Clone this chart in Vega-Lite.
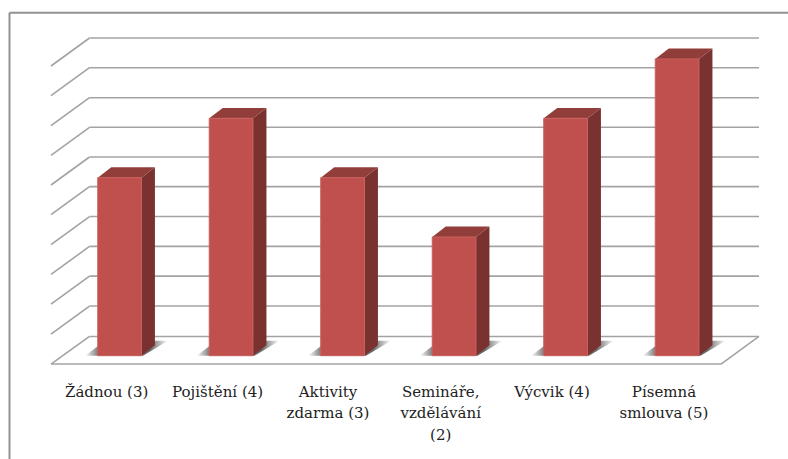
{"$schema":"https://vega.github.io/schema/vega-lite/v6.json","width":788,"height":459,"padding":0,"autosize":{"type":"none"},"background":"white","config":{"view":{"stroke":null},"font":"DejaVu Serif"},
"datasets":{
"lines":[
{"kind":"frame","x":-0.9874,"x2":5.9946,"y":5.779,"y2":5.779},
{"kind":"frame","x":-0.9874,"x2":-0.9874,"y":5.779,"y2":-1.7405},
{"kind":"grid","x":-0.27,"x2":5.7345,"y":5.353,"y2":5.353},
{"kind":"grid","x":-0.27,"x2":5.7345,"y":4.853,"y2":4.853},
{"kind":"grid","x":-0.27,"x2":5.7345,"y":4.347,"y2":4.347},
{"kind":"grid","x":-0.27,"x2":5.7345,"y":3.848,"y2":3.848},
{"kind":"grid","x":-0.27,"x2":5.7345,"y":3.348,"y2":3.348},
{"kind":"grid","x":-0.27,"x2":5.7345,"y":2.848,"y2":2.848},
{"kind":"grid","x":-0.27,"x2":5.7345,"y":2.345,"y2":2.345},
{"kind":"grid","x":-0.27,"x2":5.7345,"y":1.842,"y2":1.842},
{"kind":"grid","x":-0.27,"x2":5.7345,"y":1.34,"y2":1.34},
{"kind":"grid","x":-0.27,"x2":5.7345,"y":0.837,"y2":0.837},
{"kind":"grid","x":-0.27,"x2":5.7345,"y":0.324,"y2":0.324},
{"kind":"grid","x":-0.6152,"x2":-0.27,"y":4.881,"y2":5.353},
{"kind":"grid","x":-0.6152,"x2":-0.27,"y":4.381,"y2":4.853},
{"kind":"grid","x":-0.6152,"x2":-0.27,"y":3.875,"y2":4.347},
{"kind":"grid","x":-0.6152,"x2":-0.27,"y":3.376,"y2":3.848},
{"kind":"grid","x":-0.6152,"x2":-0.27,"y":2.876,"y2":3.348},
{"kind":"grid","x":-0.6152,"x2":-0.27,"y":2.376,"y2":2.848},
{"kind":"grid","x":-0.6152,"x2":-0.27,"y":1.873,"y2":2.345},
{"kind":"grid","x":-0.6152,"x2":-0.27,"y":1.37,"y2":1.842},
{"kind":"grid","x":-0.6152,"x2":-0.27,"y":0.868,"y2":1.34},
{"kind":"grid","x":-0.6152,"x2":-0.27,"y":0.365,"y2":0.837},
{"kind":"grid","x":-0.6152,"x2":-0.27,"y":-0.1405,"y2":0.324},
{"kind":"grid","x":-0.6152,"x2":5.394,"y":-0.1405,"y2":-0.1405},
{"kind":"grid","x":5.394,"x2":5.7345,"y":-0.1405,"y2":0.324}
],
"bars":[
{"bar":"Žádnou","x0":-0.196,"x1":0.196,"base":0,"v":3},
{"bar":"Pojištění","x0":0.804,"x1":1.196,"base":0,"v":4},
{"bar":"Aktivity zdarma","x0":1.804,"x1":2.196,"base":0,"v":3},
{"bar":"Semináře, vzdělávání","x0":2.804,"x1":3.196,"base":0,"v":2},
{"bar":"Výcvik","x0":3.804,"x1":4.196,"base":0,"v":4},
{"bar":"Písemná smlouva","x0":4.804,"x1":5.196,"base":0,"v":5}
],
"faces":[
{"bar":"Žádnou","face":"shadow","x":-0.31,"lo":0,"hi":0},{"bar":"Žádnou","face":"shadow","x":-0.131,"lo":0,"hi":0.25},{"bar":"Žádnou","face":"shadow","x":0.21,"lo":0,"hi":0.25},{"bar":"Žádnou","face":"shadow","x":0.434,"lo":0.25,"hi":0.25},
{"bar":"Pojištění","face":"shadow","x":0.69,"lo":0,"hi":0},{"bar":"Pojištění","face":"shadow","x":0.869,"lo":0,"hi":0.25},{"bar":"Pojištění","face":"shadow","x":1.21,"lo":0,"hi":0.25},{"bar":"Pojištění","face":"shadow","x":1.434,"lo":0.25,"hi":0.25},
{"bar":"Aktivity zdarma","face":"shadow","x":1.69,"lo":0,"hi":0},{"bar":"Aktivity zdarma","face":"shadow","x":1.869,"lo":0,"hi":0.25},{"bar":"Aktivity zdarma","face":"shadow","x":2.21,"lo":0,"hi":0.25},{"bar":"Aktivity zdarma","face":"shadow","x":2.434,"lo":0.25,"hi":0.25},
{"bar":"Semináře, vzdělávání","face":"shadow","x":2.69,"lo":0,"hi":0},{"bar":"Semináře, vzdělávání","face":"shadow","x":2.869,"lo":0,"hi":0.25},{"bar":"Semináře, vzdělávání","face":"shadow","x":3.21,"lo":0,"hi":0.25},{"bar":"Semináře, vzdělávání","face":"shadow","x":3.434,"lo":0.25,"hi":0.25},
{"bar":"Výcvik","face":"shadow","x":3.69,"lo":0,"hi":0},{"bar":"Výcvik","face":"shadow","x":3.869,"lo":0,"hi":0.25},{"bar":"Výcvik","face":"shadow","x":4.21,"lo":0,"hi":0.25},{"bar":"Výcvik","face":"shadow","x":4.434,"lo":0.25,"hi":0.25},
{"bar":"Písemná smlouva","face":"shadow","x":4.69,"lo":0,"hi":0},{"bar":"Písemná smlouva","face":"shadow","x":4.869,"lo":0,"hi":0.25},{"bar":"Písemná smlouva","face":"shadow","x":5.21,"lo":0,"hi":0.25},{"bar":"Písemná smlouva","face":"shadow","x":5.434,"lo":0.25,"hi":0.25},
{"bar":"Žádnou","face":"side","x":0.196,"lo":0,"hi":3},{"bar":"Žádnou","face":"side","x":0.317,"lo":0.175,"hi":3.175},
{"bar":"Pojištění","face":"side","x":1.196,"lo":0,"hi":4},{"bar":"Pojištění","face":"side","x":1.317,"lo":0.175,"hi":4.175},
{"bar":"Aktivity zdarma","face":"side","x":2.196,"lo":0,"hi":3},{"bar":"Aktivity zdarma","face":"side","x":2.317,"lo":0.175,"hi":3.175},
{"bar":"Semináře, vzdělávání","face":"side","x":3.196,"lo":0,"hi":2},{"bar":"Semináře, vzdělávání","face":"side","x":3.317,"lo":0.175,"hi":2.175},
{"bar":"Výcvik","face":"side","x":4.196,"lo":0,"hi":4},{"bar":"Výcvik","face":"side","x":4.317,"lo":0.175,"hi":4.175},
{"bar":"Písemná smlouva","face":"side","x":5.196,"lo":0,"hi":5},{"bar":"Písemná smlouva","face":"side","x":5.317,"lo":0.175,"hi":5.175},
{"bar":"Žádnou","face":"top","x":-0.196,"lo":3,"hi":3},{"bar":"Žádnou","face":"top","x":-0.075,"lo":3,"hi":3.175},{"bar":"Žádnou","face":"top","x":0.196,"lo":3,"hi":3.175},{"bar":"Žádnou","face":"top","x":0.317,"lo":3.175,"hi":3.175},
{"bar":"Pojištění","face":"top","x":0.804,"lo":4,"hi":4},{"bar":"Pojištění","face":"top","x":0.925,"lo":4,"hi":4.175},{"bar":"Pojištění","face":"top","x":1.196,"lo":4,"hi":4.175},{"bar":"Pojištění","face":"top","x":1.317,"lo":4.175,"hi":4.175},
{"bar":"Aktivity zdarma","face":"top","x":1.804,"lo":3,"hi":3},{"bar":"Aktivity zdarma","face":"top","x":1.925,"lo":3,"hi":3.175},{"bar":"Aktivity zdarma","face":"top","x":2.196,"lo":3,"hi":3.175},{"bar":"Aktivity zdarma","face":"top","x":2.317,"lo":3.175,"hi":3.175},
{"bar":"Semináře, vzdělávání","face":"top","x":2.804,"lo":2,"hi":2},{"bar":"Semináře, vzdělávání","face":"top","x":2.925,"lo":2,"hi":2.175},{"bar":"Semináře, vzdělávání","face":"top","x":3.196,"lo":2,"hi":2.175},{"bar":"Semináře, vzdělávání","face":"top","x":3.317,"lo":2.175,"hi":2.175},
{"bar":"Výcvik","face":"top","x":3.804,"lo":4,"hi":4},{"bar":"Výcvik","face":"top","x":3.925,"lo":4,"hi":4.175},{"bar":"Výcvik","face":"top","x":4.196,"lo":4,"hi":4.175},{"bar":"Výcvik","face":"top","x":4.317,"lo":4.175,"hi":4.175},
{"bar":"Písemná smlouva","face":"top","x":4.804,"lo":5,"hi":5},{"bar":"Písemná smlouva","face":"top","x":4.925,"lo":5,"hi":5.175},{"bar":"Písemná smlouva","face":"top","x":5.196,"lo":5,"hi":5.175},{"bar":"Písemná smlouva","face":"top","x":5.317,"lo":5.175,"hi":5.175}
],
"labels":[
{"label":"Žádnou (3)","x":-0.116,"y":-0.696},
{"label":"Pojištění (4)","x":0.879,"y":-0.696},
{"label":"Aktivity\nzdarma (3)","x":1.869,"y":-0.696},
{"label":"Semináře,\nvzdělávání\n(2)","x":2.88,"y":-0.696},
{"label":"Výcvik (4)","x":3.878,"y":-0.696},
{"label":"Písemná\nsmlouva (5)","x":4.882,"y":-0.696}
]},
"layer":[
{"data":{"name":"lines"},"transform":[{"filter":"datum.kind==='frame'"}],"mark":{"type":"rule","color":"#929292","strokeWidth":2},
"encoding":{"x":{"field":"x","type":"quantitative","axis":null,"scale":{"domain":[-1.0726,5.9946],"nice":false,"zero":false}},"x2":{"field":"x2"},"y":{"field":"y","type":"quantitative","axis":null,"scale":{"domain":[-1.7405,5.9933],"nice":false,"zero":false}},"y2":{"field":"y2"}}},
{"data":{"name":"lines"},"transform":[{"filter":"datum.kind==='grid'"}],"mark":{"type":"rule","color":"#a3a3a3","strokeWidth":1.6},
"encoding":{"x":{"field":"x","type":"quantitative","axis":null,"scale":{"domain":[-1.0726,5.9946],"nice":false,"zero":false}},"x2":{"field":"x2"},"y":{"field":"y","type":"quantitative","axis":null,"scale":{"domain":[-1.7405,5.9933],"nice":false,"zero":false}},"y2":{"field":"y2"}}},
{"data":{"name":"faces"},"transform":[{"filter":"datum.face==='shadow'"}],"mark":{"type":"area","color":{"gradient":"linear","x1":0,"y1":0,"x2":1,"y2":0,"stops":[{"offset":0,"color":"#ffffff"},{"offset":0.14,"color":"#8a8a8a"},{"offset":0.78,"color":"#666666"},{"offset":1,"color":"#ffffff"}]}},
"encoding":{"x":{"field":"x","type":"quantitative","axis":null,"scale":{"domain":[-1.0726,5.9946],"nice":false,"zero":false}},"y":{"field":"lo","type":"quantitative","axis":null,"scale":{"domain":[-1.7405,5.9933],"nice":false,"zero":false}},"y2":{"field":"hi"},"detail":{"field":"bar"}}},
{"data":{"name":"faces"},"transform":[{"filter":"datum.face==='side'"}],"mark":{"type":"area","color":"#7a3230"},
"encoding":{"x":{"field":"x","type":"quantitative","axis":null,"scale":{"domain":[-1.0726,5.9946],"nice":false,"zero":false}},"y":{"field":"lo","type":"quantitative","axis":null,"scale":{"domain":[-1.7405,5.9933],"nice":false,"zero":false}},"y2":{"field":"hi"},"detail":{"field":"bar"}}},
{"data":{"name":"faces"},"transform":[{"filter":"datum.face==='top'"}],"mark":{"type":"area","color":"#913e3b"},
"encoding":{"x":{"field":"x","type":"quantitative","axis":null,"scale":{"domain":[-1.0726,5.9946],"nice":false,"zero":false}},"y":{"field":"lo","type":"quantitative","axis":null,"scale":{"domain":[-1.7405,5.9933],"nice":false,"zero":false}},"y2":{"field":"hi"},"detail":{"field":"bar"}}},
{"data":{"name":"bars"},"mark":{"type":"rect","color":"#c0504d","stroke":"#c9605c","strokeWidth":1},
"encoding":{"x":{"field":"x0","type":"quantitative","axis":null,"scale":{"domain":[-1.0726,5.9946],"nice":false,"zero":false}},"x2":{"field":"x1"},"y":{"field":"v","type":"quantitative","axis":null,"scale":{"domain":[-1.7405,5.9933],"nice":false,"zero":false}},"y2":{"field":"base"}}},
{"data":{"name":"labels"},"mark":{"type":"text","font":"DejaVu Serif","fontSize":15,"color":"#222222","align":"center","baseline":"alphabetic","lineBreak":"\n","lineHeight":21.3},
"encoding":{"x":{"field":"x","type":"quantitative","axis":null,"scale":{"domain":[-1.0726,5.9946],"nice":false,"zero":false}},"y":{"field":"y","type":"quantitative","axis":null,"scale":{"domain":[-1.7405,5.9933],"nice":false,"zero":false}},"text":{"field":"label"}}}
]}
